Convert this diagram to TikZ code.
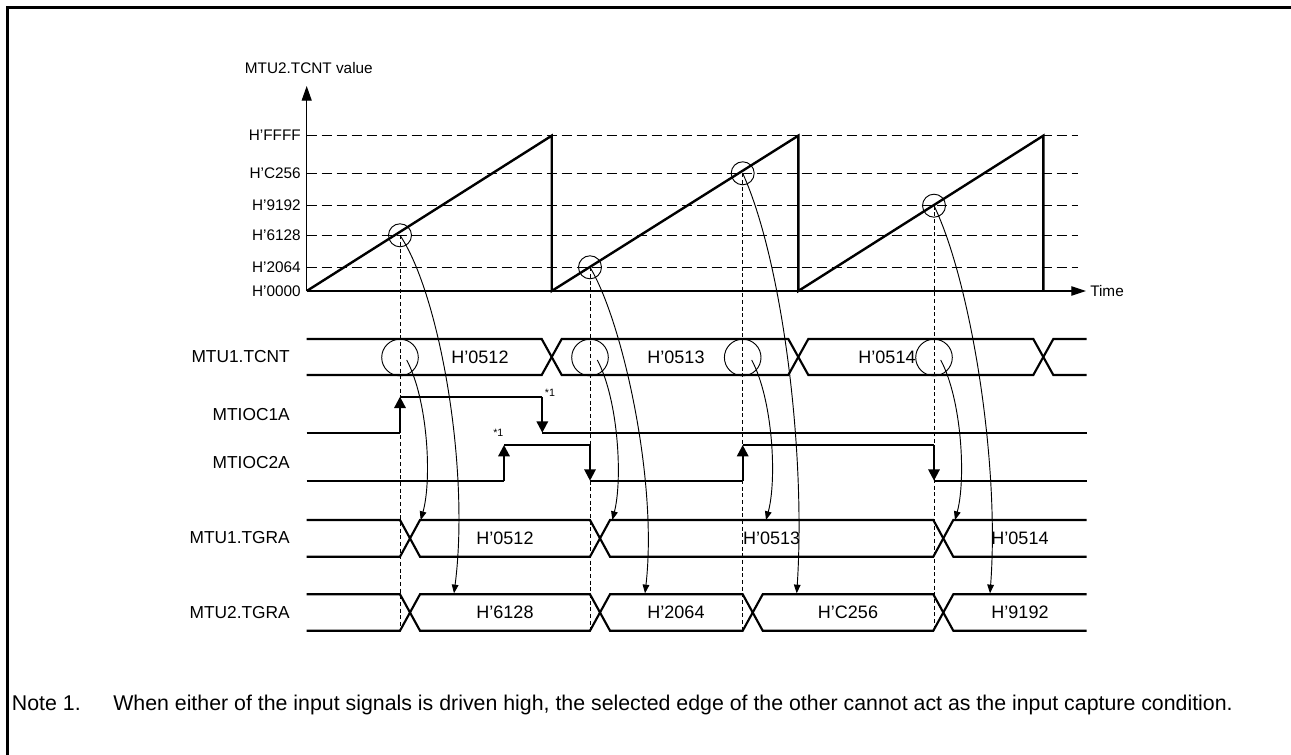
\documentclass[tikz,border=0pt]{standalone}
\usepackage{fontspec}
\setmainfont{Liberation Sans}
\usetikzlibrary{arrows.meta}
\begin{document}
\begin{tikzpicture}[x=0.75pt,y=-0.75pt,
  frameline/.style={line width=2.3pt},
  axisline/.style={line width=0.8pt},
  rampline/.style={line width=1.8pt},
  gridline/.style={line width=1pt, dash pattern=on 7.5pt off 3.75pt},
  vdash/.style={line width=0.6pt, dash pattern=on 3pt off 2pt},
  sig/.style={line width=1.6pt, line join=miter},
  edgearrow/.style={line width=1.6pt, -{Triangle[length=8.5pt,width=8.5pt]}},
  capcurve/.style={line width=0.7pt, -{Triangle[length=6.5pt,width=5pt]}},
  ring/.style={line width=0.7pt},
  axlabel/.style={font=\fontsize{11.5}{13}\selectfont, inner sep=0pt},
  rowlabel/.style={font=\fontsize{13}{15}\selectfont, inner sep=0pt, anchor=east},
  vallabel/.style={font=\fontsize{13.5}{15}\selectfont, inner sep=0pt},
  starlabel/.style={font=\fontsize{8}{9}\selectfont, inner sep=0pt},
  notelabel/.style={font=\fontsize{16}{18}\selectfont, inner sep=0pt, anchor=base west}
]
\useasboundingbox (0,0) rectangle (1291,755);
% frame
\draw[frameline] (7.5,755) -- (7.5,7.5) -- (1291,7.5);

% ---- chart ----
\coordinate (O) at (306.7,291);
\coordinate (Ytop) at (306.7,86);
\coordinate (Xend) at (1086,291);
\foreach \yy/\nm in {135.7/FFFF,173.3/C256,205.7/9192,235.3/6128,267.3/2064}{
  \draw[gridline] (306.7,\yy) -- (1078,\yy);
  \node[axlabel, anchor=east] (ax\nm) at (301,\yy) {H’\nm};
}
\node[axlabel, anchor=east] (ax0000) at (301,291.5) {H’0000};
\draw[axisline, -{Triangle[length=11pt,width=7.5pt]}] (O) -- (Ytop);
\draw[axisline, -{Triangle[length=11pt,width=7pt]}] (O) -- (Xend);
\node[axlabel, anchor=east] (ylab) at (373,68) {MTU2.TCNT value};
\node[axlabel, anchor=west] (xlab) at (1090,291.5) {Time};

\draw[rampline] (306.7,291) -- (551.7,135.7) -- (551.7,291) -- (798.3,135.7) -- (798.3,291) -- (1043.3,135.7) -- (1043.3,291);

% capture points
\coordinate (c1) at (400,235.3);
\coordinate (c2) at (590,267.3);
\coordinate (c3) at (742.7,173.3);
\coordinate (c4) at (934,205.7);
\foreach \c in {c1,c2,c3,c4}{\draw[ring] (\c) circle[radius=11.5];}

% vertical dashed lines
\draw[vdash] (c1) -- (400,630.7);
\draw[vdash] (c2) -- (590,630.7);
\draw[vdash] (c3) -- (742.7,630.7);
\draw[vdash] (c4) -- (934,630.7);

% ---- row labels ----
\node[rowlabel] (lTCNT) at (290,357) {MTU1.TCNT};
\node[rowlabel] (lOC1) at (290,415) {MTIOC1A};
\node[rowlabel] (lOC2) at (290,463) {MTIOC2A};
\node[rowlabel] (lTGRA1) at (290,538) {MTU1.TGRA};
\node[rowlabel] (lTGRA2) at (290,612.5) {MTU2.TGRA};

% ---- MTU1.TCNT bus ----
\draw[sig] (306.7,339)--(541.7,339)--(561.7,375)--(788.3,375)--(808.3,339)--(1033.3,339)--(1053.3,375)--(1086.7,375);
\draw[sig] (306.7,375)--(541.7,375)--(561.7,339)--(788.3,339)--(808.3,375)--(1033.3,375)--(1053.3,339)--(1086.7,339);
\node[vallabel] (t512) at (480,357) {H’0512};
\node[vallabel] (t513) at (676,357) {H’0513};
\node[vallabel] (t514) at (887,357) {H’0514};
\coordinate (r1) at (400,357.5);
\coordinate (r2) at (590,357.5);
\coordinate (r3) at (742.7,357.5);
\coordinate (r4) at (934,357.5);
\foreach \c in {r1,r2,r3,r4}{\draw[ring] (\c) circle[radius=18.3];}

% ---- MTIOC1A ----
\draw[sig] (306.7,432.7) -- (400,432.7);
\draw[edgearrow] (400,432.7) -- (400,396.7);
\draw[sig] (400,396.7) -- (542.3,396.7);
\draw[edgearrow] (542.3,396.7) -- (542.3,432.7);
\draw[sig] (542.3,432.7) -- (1086.7,432.7);
\node[starlabel] (s1) at (550,392.7) {*1};

% ---- MTIOC2A ----
\draw[sig] (306.7,480.7) -- (504,480.7);
\draw[edgearrow] (504,480.7) -- (504,445);
\draw[sig] (504,445) -- (590,445);
\draw[edgearrow] (590,445) -- (590,480.7);
\draw[sig] (590,480.7) -- (742.7,480.7);
\draw[edgearrow] (742.7,480.7) -- (742.7,445);
\draw[sig] (742.7,445) -- (934,445);
\draw[edgearrow] (934,445) -- (934,480.7);
\draw[sig] (934,480.7) -- (1086.7,480.7);
\node[starlabel] (s2) at (498.3,433.3) {*1};

% ---- MTU1.TGRA bus ----
\draw[sig] (306.7,520)--(400,520)--(420,556.7)--(590,556.7)--(610,520)--(933.3,520)--(953.3,556.7)--(1086.7,556.7);
\draw[sig] (306.7,556.7)--(400,556.7)--(420,520)--(590,520)--(610,556.7)--(933.3,556.7)--(953.3,520)--(1086.7,520);
\node[vallabel] (g512) at (505,538) {H’0512};
\node[vallabel] (g513) at (771.7,538) {H’0513};
\node[vallabel] (g514) at (1020,538) {H’0514};

% ---- MTU2.TGRA bus ----
\draw[sig] (306.7,594.3)--(400,594.3)--(420,630.7)--(590,630.7)--(610,594.3)--(742.7,594.3)--(762.7,630.7)--(933.3,630.7)--(953.3,594.3)--(1086.7,594.3);
\draw[sig] (306.7,630.7)--(400,630.7)--(420,594.3)--(590,594.3)--(610,630.7)--(742.7,630.7)--(762.7,594.3)--(933.3,594.3)--(953.3,630.7)--(1086.7,630.7);
\node[vallabel] (h6128) at (505,612.5) {H’6128};
\node[vallabel] (h2064) at (676,612.5) {H’2064};
\node[vallabel] (hC256) at (848,612.5) {H’C256};
\node[vallabel] (h9192) at (1020,612.5) {H’9192};

% ---- capture curves: chart -> MTU2.TGRA ----
\coordinate (e1) at (454,593.3);
\coordinate (e2) at (645,593.3);
\coordinate (e3) at (796.7,593.3);
\coordinate (e4) at (990,593.3);
\draw[capcurve] (c1) .. controls (440,295) and (470,470) .. (e1);
\draw[capcurve] (c2) .. controls (622,320) and (658,480) .. (e2);
\draw[capcurve] (c3) .. controls (782,260) and (806,450) .. (e3);
\draw[capcurve] (c4) .. controls (970,280) and (1000,460) .. (e4);

% ---- capture curves: MTU1.TCNT -> MTU1.TGRA ----
\coordinate (q1) at (406.7,360);
\coordinate (q2) at (597.3,360);
\coordinate (q3) at (751.7,360);
\coordinate (q4) at (940.7,360);
\coordinate (f1) at (420.7,520);
\coordinate (f2) at (612.3,520);
\coordinate (f3) at (766,520);
\coordinate (f4) at (955,520);
\draw[capcurve] (q1) .. controls (428,400) and (432,480) .. (f1);
\draw[capcurve] (q2) .. controls (618.6,400) and (622.6,480) .. (f2);
\draw[capcurve] (q3) .. controls (773,400) and (777,480) .. (f3);
\draw[capcurve] (q4) .. controls (962,400) and (966,480) .. (f4);

% ---- note ----
\node[notelabel] (note) at (11.7,710.5) {Note 1.};
\node[notelabel] (notetext) at (113,710.5) {When either of the input signals is driven high, the selected edge of the other cannot act as the input capture condition.};
\end{tikzpicture}
\end{document}
